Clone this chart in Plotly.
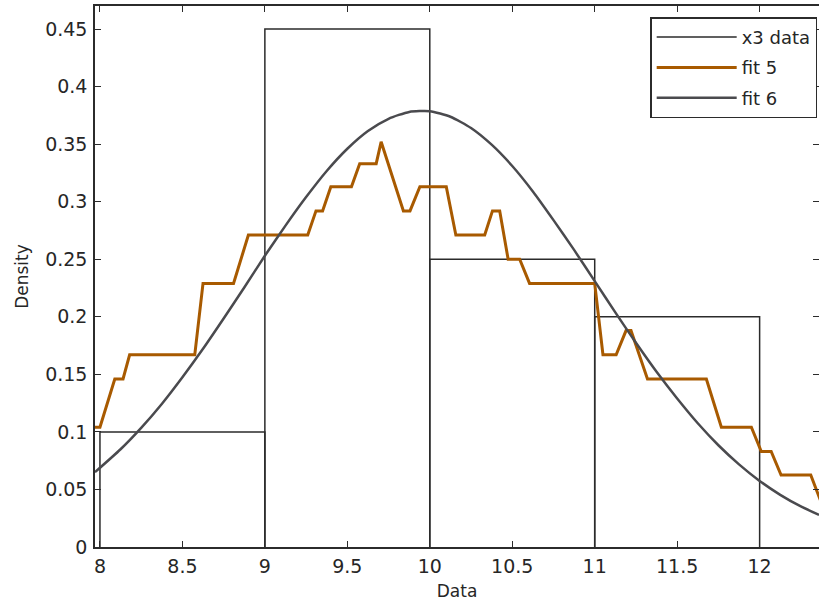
import plotly.graph_objects as go

# Histogram (x3 data): bin edges and densities
bin_left = [8.0, 9.0, 10.0, 11.0]
bin_right = [9.0, 10.0, 11.0, 12.0]
bin_density = [0.10, 0.45, 0.25, 0.20]

# fit 5 (stepped nonparametric fit)
fit5_x = [7.97, 8.00, 8.09, 8.14, 8.18, 8.575, 8.625, 8.81, 8.90, 9.26, 9.31, 9.35,
          9.40, 9.525, 9.575, 9.675, 9.705, 9.84, 9.88, 9.94, 10.10, 10.158, 10.333,
          10.38, 10.424, 10.475, 10.545, 10.605, 11.00, 11.05, 11.13, 11.19, 11.22,
          11.32, 11.677, 11.768, 11.95, 12.01, 12.07, 12.13, 12.31, 12.37]
fit5_y = [0.104, 0.104, 0.146, 0.146, 0.167, 0.167, 0.229, 0.229, 0.271, 0.271, 0.292, 0.292,
          0.313, 0.313, 0.333, 0.333, 0.352, 0.292, 0.292, 0.313, 0.313, 0.271, 0.271,
          0.292, 0.292, 0.250, 0.250, 0.229, 0.229, 0.167, 0.167, 0.188, 0.188,
          0.146, 0.146, 0.104, 0.104, 0.083, 0.083, 0.0625, 0.0625, 0.040]

# fit 6 (smooth parametric fit)
fit6_x = [7.97, 8.125, 8.25, 8.375, 8.5, 8.625, 8.75, 8.875, 9.0, 9.125, 9.25, 9.375,
          9.5, 9.625, 9.75, 9.875, 10.0, 10.125, 10.25, 10.375, 10.5, 10.625, 10.75,
          10.875, 11.0, 11.125, 11.25, 11.375, 11.5, 11.625, 11.75, 11.875, 12.0,
          12.125, 12.25, 12.36]
fit6_y = [0.065, 0.0849, 0.1035, 0.1243, 0.1475, 0.1722, 0.1985, 0.2255, 0.253, 0.2792, 0.304, 0.3267,
          0.346, 0.3614, 0.372, 0.3780, 0.3786, 0.3738, 0.364, 0.3495, 0.331, 0.3089, 0.284,
          0.2581, 0.231, 0.2038, 0.1774, 0.1522, 0.129, 0.1075, 0.0884, 0.0718, 0.0574,
          0.0453, 0.0352, 0.0279]

xtick_vals = [8, 8.5, 9, 9.5, 10, 10.5, 11, 11.5, 12]
xtick_text = ["8", "8.5", "9", "9.5", "10", "10.5", "11", "11.5", "12"]
ytick_vals = [0, 0.05, 0.1, 0.15, 0.2, 0.25, 0.3, 0.35, 0.4, 0.45]
ytick_text = ["0", "0.05", "0.1", "0.15", "0.2", "0.25", "0.3", "0.35", "0.4", "0.45"]

# Build outline paths of the histogram bars from the bin arrays
hx, hy = [], []
for l, r, h in zip(bin_left, bin_right, bin_density):
    hx += [l, l, r, r, None]
    hy += [0, h, h, 0, None]

FONT = "DejaVu Sans"
TXT = "#262626"

fig = go.Figure()
fig.add_trace(go.Scatter(x=hx, y=hy, mode="lines", name="x3 data", legendgroup="a",
                         line=dict(color="#2b2b2b", width=1.5), connectgaps=False))
fig.add_trace(go.Scatter(x=fit5_x, y=fit5_y, mode="lines", name="fit 5", legendgroup="b",
                         line=dict(color="#a85a00", width=3)))
fig.add_trace(go.Scatter(x=fit6_x, y=fit6_y, mode="lines", name="fit 6", legendgroup="c",
                         line=dict(color="#4a4a4e", width=2.5, shape="spline", smoothing=0.6)))

axis_common = dict(showline=True, linecolor="#2b2b2b", linewidth=1.5, mirror="ticks",
                   ticks="inside", ticklen=6, tickwidth=1.2, tickcolor="#2b2b2b",
                   showgrid=False, zeroline=False,
                   tickfont=dict(family=FONT, size=19, color=TXT))

fig.update_xaxes(range=[7.97, 12.36], tickvals=xtick_vals, ticktext=xtick_text,
                 ticklabelstandoff=1,
                 title=dict(text="Data", font=dict(family=FONT, size=17, color=TXT), standoff=10),
                 **axis_common)
fig.update_yaxes(range=[0, 0.47], tickvals=ytick_vals, ticktext=ytick_text,
                 ticklabelstandoff=2,
                 title=dict(text="Density", font=dict(family=FONT, size=17, color=TXT), standoff=12),
                 **axis_common)

fig.update_layout(
    width=819, height=610,
    margin=dict(l=95, r=0, t=6, b=63, autoexpand=False),
    paper_bgcolor="white", plot_bgcolor="white",
    showlegend=True,
    legend=dict(x=0.9975, y=0.979, xanchor="right", yanchor="top",
                bgcolor="white", bordercolor="#2b2b2b", borderwidth=1.5,
                font=dict(family=FONT, size=18, color=TXT),
                itemwidth=80, tracegroupgap=4),
)

fig.write_html("out.html", config={"displayModeBar": False},
               post_script="document.body.style.margin='0';")
